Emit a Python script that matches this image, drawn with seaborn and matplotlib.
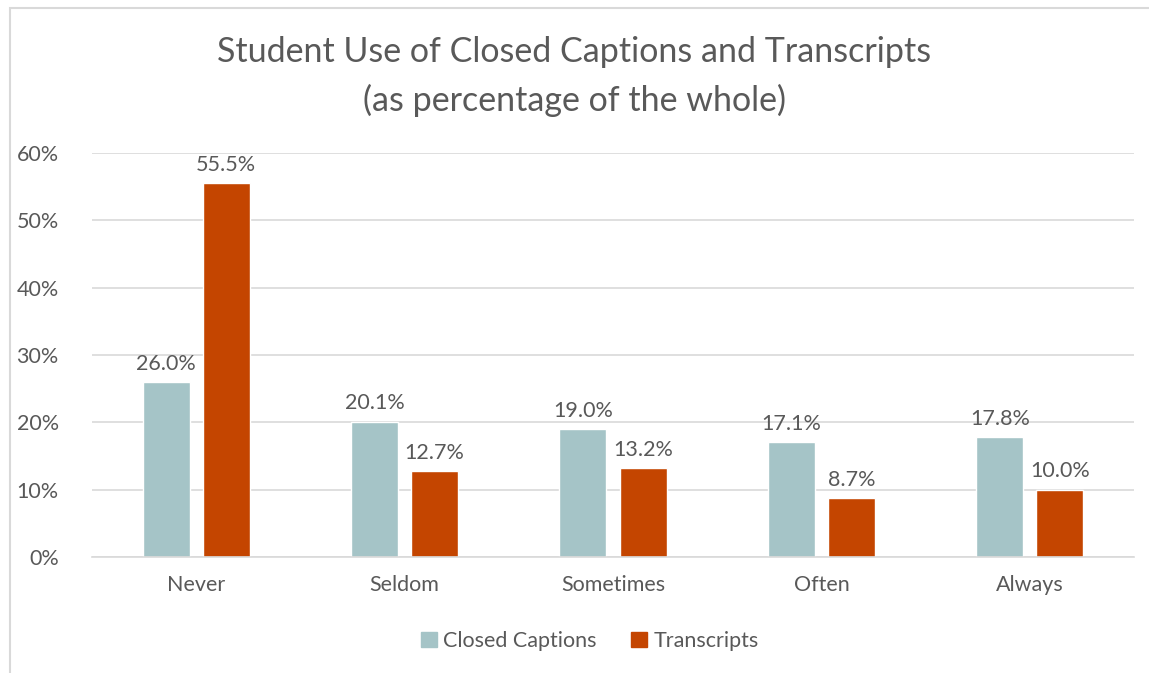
import pandas as pd
import matplotlib.pyplot as plt
import matplotlib.patches as mpatches
import matplotlib.ticker as mticker
import seaborn as sns

# ─── Data ─────────────────────────────────────────────────────────────────────
categories = ['Never', 'Seldom', 'Sometimes', 'Often', 'Always']
closed_captions = [26.0, 20.1, 19.0, 17.1, 17.8]
transcripts = [55.5, 12.7, 13.2, 8.7, 10.0]
series_names = ['Closed Captions', 'Transcripts']
y_ticks = [0, 10, 20, 30, 40, 50, 60]

df = pd.DataFrame({
    'category': categories * 2,
    'series': [series_names[0]] * len(categories) + [series_names[1]] * len(categories),
    'value': closed_captions + transcripts,
})

# ─── Style ────────────────────────────────────────────────────────────────────
sns.set_style('white')
plt.rcParams['font.family'] = ['Lato', 'DejaVu Sans']
grey = '#595959'
palette = {'Closed Captions': '#A5C4C7', 'Transcripts': '#C44500'}
fs = 15.5

fig = plt.figure(figsize=(11.49, 6.73), dpi=100)
ax = fig.add_axes([92 / 1149, 1 - 557 / 673, (1134 - 92) / 1149, (557 - 153) / 673])

sns.barplot(data=df, x='category', y='value', hue='series', palette=palette,
            order=categories, hue_order=series_names, width=0.576, gap=0.217,
            ax=ax, legend=False, saturation=1)

ax.set_ylim(0, 60)
ax.set_xlim(-0.5, len(categories) - 0.5)
ax.set_yticks(y_ticks)
ax.yaxis.set_major_formatter(mticker.FuncFormatter(lambda v, p: f'{v:.0f}%'))
ax.grid(axis='y', color='#D9D9D9', linewidth=1.2)
ax.set_axisbelow(True)
for side in ['top', 'right', 'left']:
    ax.spines[side].set_visible(False)
ax.spines['bottom'].set_color('#D9D9D9')
ax.spines['bottom'].set_linewidth(1.2)
ax.tick_params(axis='both', length=0, labelsize=fs, labelcolor=grey)
ax.tick_params(axis='x', pad=13)
ax.tick_params(axis='y', pad=24)
ax.set_xlabel('')
ax.set_ylabel('')

for container in ax.containers:
    ax.bar_label(container, labels=[f'{b.get_height():.1f}%' for b in container],
                 padding=6, fontsize=fs, color=grey)

handles = [mpatches.Patch(color=palette[s], label=s) for s in series_names]
fig.legend(handles=handles, loc='center', bbox_to_anchor=(590 / 1149, 1 - 641 / 673),
           ncol=2, frameon=False, fontsize=fs, handlelength=0.75, handleheight=0.75,
           handletextpad=0.3, columnspacing=1.6, labelcolor=grey)

fig.text(0.5, 1 - 52 / 673, 'Student Use of Closed Captions and Transcripts',
         ha='center', va='center', fontsize=24.5, color=grey)
fig.text(0.5, 1 - 100 / 673, '(as percentage of the whole)',
         ha='center', va='center', fontsize=24.5, color=grey)

# chart area frame
fig.add_artist(mpatches.Rectangle((10 / 1149, -0.05), 1.2, 1.05 - 8 / 673,
                                  transform=fig.transFigure, fill=False,
                                  edgecolor='#D9D9D9', linewidth=1.5))

fig.savefig('out.png', dpi=100)
